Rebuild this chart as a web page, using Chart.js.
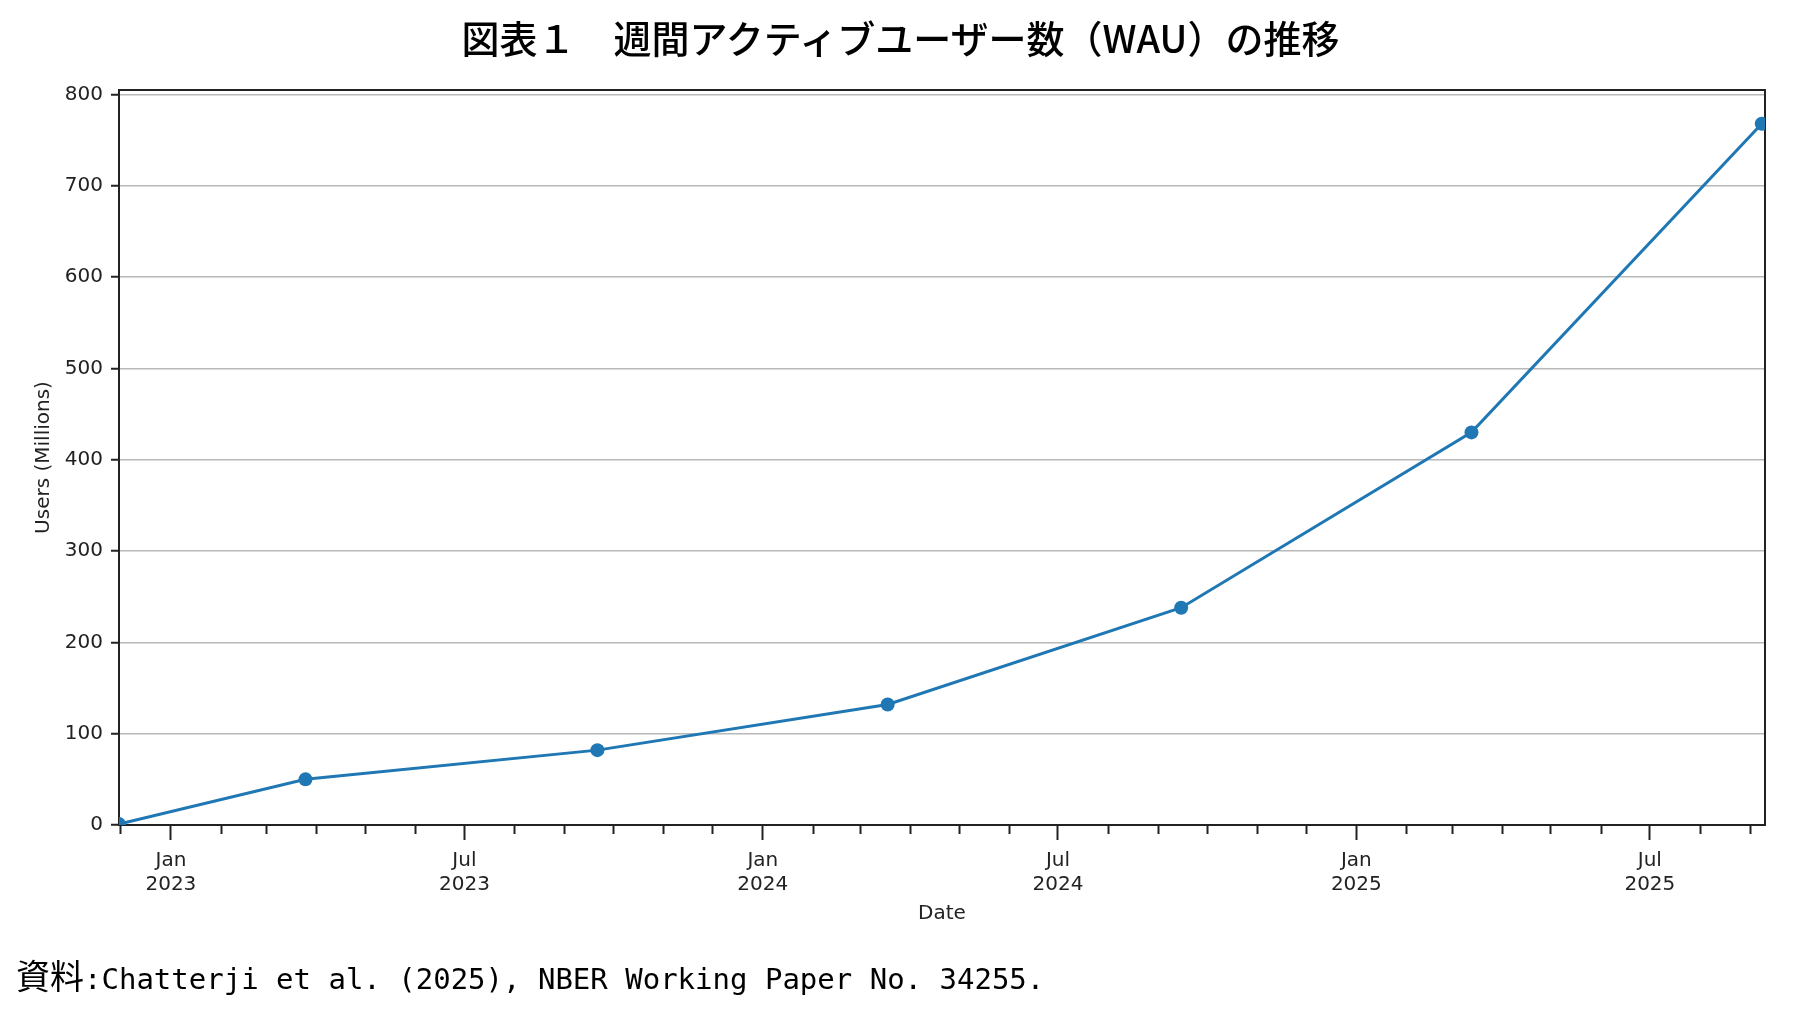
<!DOCTYPE html>
<html>
<head>
<meta charset="utf-8">
<script src="https://cdn.jsdelivr.net/npm/chart.js@4.4.1/dist/chart.umd.min.js"></script>
<style>
  html, body { margin: 0; padding: 0; background: #fff; }
  #wrap { position: relative; width: 1801px; height: 1018px; overflow: hidden; }
  #chart { position: absolute; left: 0; top: 0; }
  #title {
    position: absolute; left: 0; top: 14px; width: 1801px; text-align: center;
    font-family: "Noto Sans CJK JP", sans-serif; font-size: 38px; font-weight: 500; line-height: 46px; color: #000;
  }
  #note {
    position: absolute; left: 16px; top: 953px; white-space: pre; color: #000; line-height: 44px;
  }
  #note .jp { font-family: "Noto Sans CJK JP", sans-serif; font-size: 34px; }
  #note .en { font-family: "DejaVu Sans Mono", monospace; font-size: 29px; }
</style>
</head>
<body>
<div id="wrap">
  <canvas id="chart" width="1801" height="1018"></canvas>
  <div id="title">図表１　週間アクティブユーザー数（WAU）の推移</div>
  <div id="note"><span class="jp">資料</span><span class="en">:Chatterji et al. (2025), NBER Working Paper No. 34255.</span></div>
</div>
<script>
// weekly active users
const dates = ['2022-11-30', '2023-03-25', '2023-09-21', '2024-03-18', '2024-09-15', '2025-03-13', '2025-09-08'];
const users = [1, 50, 82, 132, 238, 430, 768];

const yTicks = [0, 100, 200, 300, 400, 500, 600, 700, 800];
const monthNames = ['Jan', 'Feb', 'Mar', 'Apr', 'May', 'Jun', 'Jul', 'Aug', 'Sep', 'Oct', 'Nov', 'Dec'];
const labelledMonths = [0, 6]; // Jan, Jul get labels + long ticks

const xStart = Date.parse('2022-11-30');
const xEnd = Date.parse('2025-09-10');

const ink = '#222';
const tickFont = { family: "'DejaVu Sans', sans-serif", size: 20 };

function isMajor(v) {
  return labelledMonths.includes(new Date(v).getUTCMonth());
}

new Chart(document.getElementById('chart'), {
  type: 'line',
  data: {
    datasets: [{
      data: dates.map((d, i) => ({ x: Date.parse(d), y: users[i] })),
      borderColor: '#1f77b4',
      backgroundColor: '#1f77b4',
      borderWidth: 3,
      pointRadius: 7,
      pointBorderWidth: 0,
      pointBackgroundColor: '#1f77b4',
      tension: 0,
      clip: 0
    }]
  },
  options: {
    responsive: false,
    animation: false,
    layout: { padding: { top: 90, right: 36, bottom: 92, left: 0 } },
    plugins: { legend: { display: false }, tooltip: { enabled: false } },
    scales: {
      x: {
        type: 'linear',
        position: 'bottom',
        bounds: 'data',
        min: xStart,
        max: xEnd,
        afterBuildTicks(scale) {
          const ticks = [];
          for (let y = 2022; y <= 2025; y++) {
            for (let m = 0; m < 12; m++) {
              const v = Date.UTC(y, m, 1);
              if (v >= scale.min && v <= scale.max) ticks.push({ value: v });
            }
          }
          scale.ticks = ticks;
        },
        afterFit(scale) { scale.height = 101; },
        ticks: {
          autoSkip: false,
          maxRotation: 0,
          padding: 9,
          color: ink,
          font: tickFont,
          callback(v) {
            const d = new Date(v);
            if (!isMajor(v)) return '';
            return [monthNames[d.getUTCMonth()], String(d.getUTCFullYear())];
          }
        },
        grid: {
          drawOnChartArea: false,
          tickLength: 15,
          tickColor: ink,
          tickWidth: 2,
          tickBorderDash: ctx => (ctx.tick && isMajor(ctx.tick.value)) ? [] : [8, 40]
        },
        border: { color: ink, width: 2 },
        title: { display: true, text: 'Date', color: ink, font: tickFont, padding: { top: 0, bottom: 0 } }
      },
      xTop: {
        type: 'linear',
        position: 'top',
        min: xStart,
        max: xEnd,
        afterFit(scale) { scale.height = 0; },
        ticks: { display: false },
        grid: { drawOnChartArea: false, drawTicks: false },
        border: { color: ink, width: 2 }
      },
      y: {
        type: 'linear',
        position: 'left',
        min: 0,
        max: 805,
        afterBuildTicks(scale) { scale.ticks = yTicks.map(v => ({ value: v })); },
        afterFit(scale) { scale.width = 119; },
        ticks: { padding: 8, color: ink, font: tickFont },
        grid: {
          color: ctx => (ctx.tick && ctx.tick.value === 0) ? 'rgba(0,0,0,0)' : '#b8b8b8',
          lineWidth: 1.5,
          tickLength: 8,
          tickColor: ink,
          tickWidth: 2
        },
        border: { color: ink, width: 2 },
        title: { display: true, text: 'Users (Millions)', color: ink, font: tickFont, padding: { top: 32, bottom: 0 } }
      },
      yRight: {
        type: 'linear',
        position: 'right',
        min: 0,
        max: 805,
        afterFit(scale) { scale.width = 0; },
        ticks: { display: false },
        grid: { drawOnChartArea: false, drawTicks: false },
        border: { color: ink, width: 2 }
      }
    }
  }
});
</script>
</body>
</html>
